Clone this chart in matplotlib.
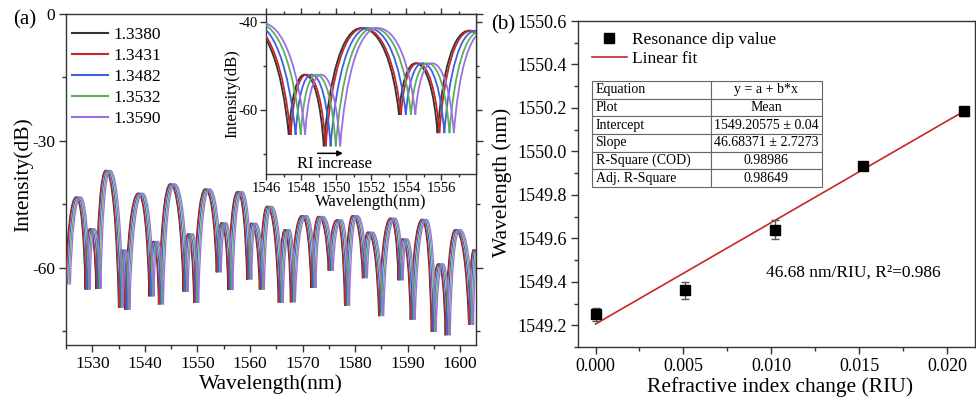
import numpy as np
import matplotlib
matplotlib.use('Agg')
import matplotlib.pyplot as plt
from matplotlib.path import Path
from matplotlib.patches import PathPatch
from matplotlib.lines import Line2D
from matplotlib.ticker import MultipleLocator, FormatStrFormatter

plt.rcParams['font.family'] = ['Liberation Serif', 'DejaVu Serif']
plt.rcParams['axes.unicode_minus'] = False
plt.rcParams['mathtext.fontset'] = 'stix'

# ---------------- data ----------------
ri_values = [1.3380, 1.3431, 1.3482, 1.3532, 1.3590]
ri_labels = ['1.3380', '1.3431', '1.3482', '1.3532', '1.3590']
dip_wavelength = [1549.25, 1549.36, 1549.64, 1549.935, 1550.185]
dip_error = [0.03, 0.04, 0.045, 0.015, 0.02]
fit_intercept = 1549.20575
fit_slope = 46.68371

# key points (peaks / dips) of the transmission spectrum for RI = 1.3380
spec_wl = [1524.9, 1526.9, 1528.65, 1529.5, 1530.7, 1532.5, 1535.0, 1535.5, 1536.2,
           1538.7, 1540.8, 1541.6, 1542.6, 1544.8, 1547.3, 1548.2, 1549.3, 1551.45,
           1553.6, 1554.55, 1555.8, 1557.6, 1559.4, 1560.2, 1561.8, 1563.2, 1565.4,
           1566.6, 1567.7, 1569.85, 1571.6, 1573.0, 1574.9, 1576.5, 1578.0, 1579.5,
           1581.4, 1582.4, 1584.5, 1586.7, 1588.2, 1589.0, 1590.5, 1592.7, 1594.5,
           1595.8, 1597.15, 1599.05, 1601.6, 1602.5, 1603.2]
spec_db = [-64.0, -43.3, -65.2, -50.8, -65.0, -37.0, -69.5, -55.8, -70.0,
           -42.4, -66.8, -53.8, -68.7, -40.2, -65.7, -52.0, -68.3, -41.4,
           -61.1, -49.4, -65.3, -42.0, -62.8, -49.5, -65.2, -45.5, -68.3,
           -51.0, -68.2, -47.7, -64.8, -47.9, -60.7, -48.7, -69.0, -47.7,
           -62.5, -51.6, -71.5, -48.3, -63.0, -53.2, -72.3, -48.6, -75.2,
           -59.1, -76.0, -51.0, -73.5, -55.8, -57.5]

inset_ticks = [1546, 1548, 1550, 1552, 1554, 1556]

table_rows = [['Equation', 'y = a + b*x'],
              ['Plot', 'Mean'],
              ['Intercept', '1549.20575 \u00b1 0.04'],
              ['Slope', '46.68371 \u00b1 2.7273'],
              ['R-Square (COD)', '0.98986'],
              ['Adj. R-Square', '0.98649']]

series_colors = ['#333333', '#c62828', '#3d62e0', '#5cae5c', '#9c6fe4']

ri_change = [r - ri_values[0] for r in ri_values]
shifts = [d - dip_wavelength[0] for d in dip_wavelength]


def spectrum_path(xs, ys):
    verts = [(xs[0], ys[0])]
    codes = [Path.MOVETO]
    for i in range(len(xs) - 1):
        x0, y0, x1, y1 = xs[i], ys[i], xs[i + 1], ys[i + 1]
        dx = x1 - x0
        if y1 > y0:
            c1 = (x0 + 0.15 * dx, y0 + 0.6 * (y1 - y0))
            c2 = (x0 + 0.50 * dx, y1)
        else:
            c1 = (x1 - 0.50 * dx, y0)
            c2 = (x1 - 0.15 * dx, y1 + 0.6 * (y0 - y1))
        verts += [c1, c2, (x1, y1)]
        codes += [Path.CURVE4] * 3
    return Path(verts, codes)


W, H = 976, 401
fig = plt.figure(figsize=(W / 100, H / 100), dpi=100)

def fx(px):
    return px / W

def fy(py):
    return 1 - py / H

spine_col = '#333333'

# ---------------- panel (a) ----------------
ax_a = fig.add_axes([fx(66), fy(345), 410 / W, 331 / H])
for k, (sh, col) in enumerate(zip(shifts, series_colors)):
    p = spectrum_path([w + sh for w in spec_wl], spec_db)
    ax_a.add_patch(PathPatch(p, fill=False, edgecolor=col, lw=0.9, zorder=2 + k))
ax_a.set_xlim(1525, 1603)
ax_a.set_ylim(-78.3, 0)
ax_a.xaxis.set_major_locator(MultipleLocator(10))
ax_a.xaxis.set_minor_locator(MultipleLocator(5))
ax_a.set_yticks([0, -30, -60])
ax_a.set_yticks([-15, -45, -75], minor=True)
ax_a.tick_params(which='both', direction='out', right=True, labelsize=12.5,
                 color=spine_col, width=1.0)
ax_a.tick_params(which='major', length=5, pad=3)
ax_a.tick_params(which='minor', length=3)
for s in ax_a.spines.values():
    s.set_color(spine_col)
    s.set_linewidth(1.0)

handles = [Line2D([], [], color=c, lw=1.5) for c in series_colors]
ax_a.legend(handles, ri_labels, loc='upper left', bbox_to_anchor=(0.014, 0.962),
            frameon=False, fontsize=12.5, handlelength=2.1, handletextpad=0.3,
            labelspacing=0.28, borderpad=0, borderaxespad=0)

fig.text(fx(24.5), fy(20), '(a)', fontsize=15, ha='center', va='center')
fig.text(fx(23), fy(175), 'Intensity(dB)', rotation=90, fontsize=15.5,
         ha='center', va='center')
fig.text(fx(271), fy(384), 'Wavelength(nm)', fontsize=15.5, ha='center', va='center')

# ---------------- inset ----------------
ax_in = fig.add_axes([fx(266), fy(174), 210 / W, 160 / H])
for k, (sh, col) in enumerate(zip(shifts, series_colors)):
    p = spectrum_path([w + sh for w in spec_wl], spec_db)
    ax_in.add_patch(PathPatch(p, fill=False, edgecolor=col, lw=1.3, zorder=2 + k))
ax_in.set_xlim(1546, 1558)
ax_in.set_ylim(-74.6, -38.2)
ax_in.set_xticks(inset_ticks)
ax_in.set_xticks([t + 1 for t in inset_ticks], minor=True)
ax_in.set_yticks([-40, -60])
ax_in.set_yticks([-50, -70], minor=True)
ax_in.tick_params(which='both', direction='out', right=True, labelsize=10.5,
                  color=spine_col, width=1.0, pad=2)
ax_in.tick_params(axis='x', which='both', top=True)
ax_in.tick_params(which='major', length=4)
ax_in.tick_params(which='minor', length=2.5)
for s in ax_in.spines.values():
    s.set_color(spine_col)
    s.set_linewidth(1.0)
ax_in.annotate('', xy=(1550.4, -69.9), xytext=(1548.95, -69.9),
               arrowprops=dict(arrowstyle='-|>', color='k', lw=1.1, mutation_scale=8,
                               shrinkA=0, shrinkB=0))
ax_in.text(1549.92, -72.3, 'RI increase', fontsize=12, ha='center', va='center')
fig.text(fx(232), fy(94), 'Intensity(dB)', rotation=90, fontsize=12,
         ha='center', va='center')
fig.text(fx(371), fy(202), 'Wavelength(nm)', fontsize=12, ha='center', va='center')

# ---------------- panel (b) ----------------
ax_b = fig.add_axes([fx(578), fy(347), 397 / W, 326 / H])
ax_b.errorbar(ri_change, dip_wavelength, yerr=dip_error, fmt='s', color='black',
              ms=7, ecolor='#555555', elinewidth=1.0, capsize=3, capthick=1.0, zorder=4)
fit_x = np.array([ri_change[0], ri_change[-1]])
ax_b.plot(fit_x, fit_intercept + fit_slope * fit_x, color='#c62828', lw=1.2, zorder=3)
ax_b.set_xlim(-0.001, 0.0216)
ax_b.set_ylim(1549.1, 1550.6)
ax_b.xaxis.set_major_locator(MultipleLocator(0.005))
ax_b.xaxis.set_minor_locator(MultipleLocator(0.0025))
ax_b.xaxis.set_major_formatter(FormatStrFormatter('%.3f'))
ax_b.yaxis.set_major_locator(MultipleLocator(0.2))
ax_b.yaxis.set_minor_locator(MultipleLocator(0.1))
ax_b.yaxis.set_major_formatter(FormatStrFormatter('%.1f'))
ax_b.tick_params(which='both', direction='out', labelsize=13, color=spine_col, width=1.0)
ax_b.tick_params(which='major', length=5, pad=3)
ax_b.tick_params(which='minor', length=3)
for s in ax_b.spines.values():
    s.set_color(spine_col)
    s.set_linewidth(1.0)

hb = [Line2D([], [], ls='none', marker='s', color='black', ms=7),
      Line2D([], [], color='#c62828', lw=1.2)]
ax_b.legend(hb, ['Resonance dip value', 'Linear fit'], loc='upper left',
            bbox_to_anchor=(0.035, 0.968), frameon=False, fontsize=12.5,
            handlelength=2.0, handletextpad=0.3, labelspacing=0.2,
            borderpad=0, borderaxespad=0)

tbl = ax_b.table(cellText=table_rows, cellLoc='left', colWidths=[0.515, 0.485],
                 bbox=[0.0352, 0.491, 0.580, 0.325], zorder=5)
tbl.auto_set_font_size(False)
tbl.set_fontsize(10)
for (r, c), cell in tbl.get_celld().items():
    cell.set_edgecolor('#666666')
    cell.set_linewidth(0.8)
    cell.PAD = 0.03
    if c == 1:
        cell.get_text().set_horizontalalignment('center')
        cell._loc = 'center'

ax_b.text(0.00972, 1549.443, '46.68 nm/RIU, R\u00b2=0.986', fontsize=12.5,
          ha='left', va='center')

fig.text(fx(503), fy(25), '(b)', fontsize=15, ha='center', va='center')
fig.text(fx(502), fy(182), 'Wavelength (nm)', rotation=90, fontsize=15.5,
         ha='center', va='center')
fig.text(fx(780), fy(387), 'Refractive index change (RIU)', fontsize=15.5,
         ha='center', va='center')

fig.savefig('out.png', dpi=100)
